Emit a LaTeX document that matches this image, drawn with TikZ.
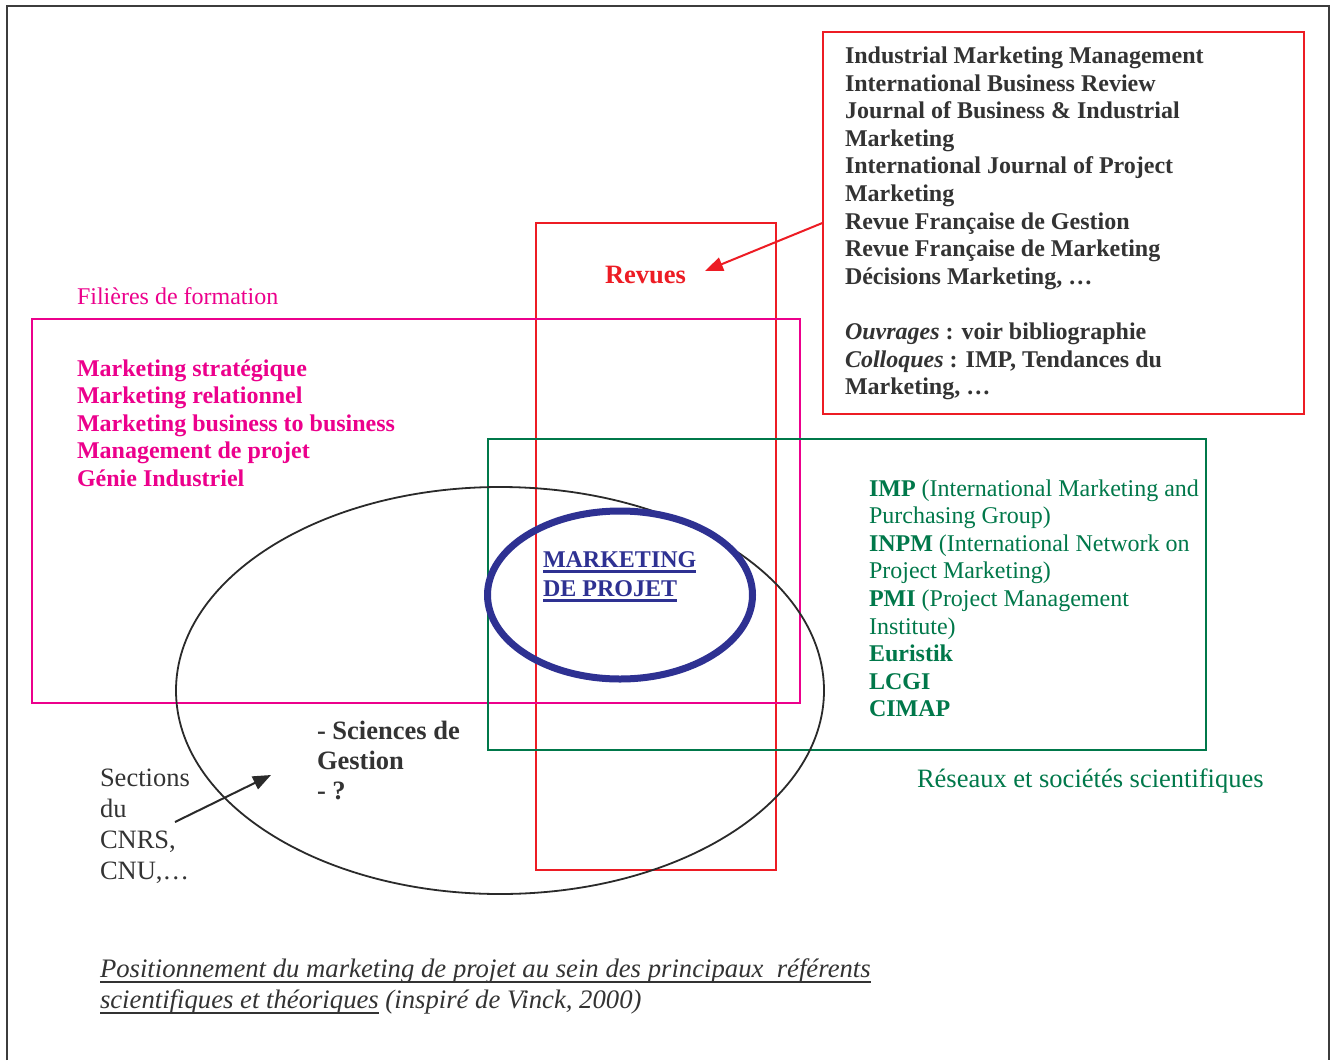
\documentclass[tikz,border=0pt]{standalone}
\usepackage{fontspec}
\setmainfont{Liberation Serif}
\usetikzlibrary{arrows.meta,shapes.geometric}
\definecolor{myred}{HTML}{ED1C24}
\definecolor{mypink}{HTML}{EC008C}
\definecolor{mygreen}{HTML}{00784A}
\definecolor{myblue}{HTML}{2E3192}
\definecolor{mydark}{HTML}{333333}
\definecolor{myline}{HTML}{2A2A2A}
\definecolor{myframe}{HTML}{3C3C3C}
\newcommand\fsA{\fontsize{24}{27.6}\selectfont}
\newcommand\fsB{\fontsize{26.5}{30.4}\selectfont}
\newsavebox\myulbox
\newcommand\myul[3]{\sbox\myulbox{#3}\rlap{\rule[-#1]{\wd\myulbox}{#2}}\usebox\myulbox}
\begin{document}
\begin{tikzpicture}[x=1pt,y=-1pt,
  box/.style={draw,line width=2pt,inner sep=0pt,outer sep=0pt,rectangle},
  txt/.style={anchor=base west,inner sep=0pt,outer sep=0pt},
  arr/.style={line width=2pt,-{Triangle[length=18pt,width=14pt]}}]
\useasboundingbox (0,0) rectangle (1333,1060);
\fill[white] (0,0) rectangle (1333,1060);
\draw[myframe,line width=2.2pt] (7,1060) -- (7,6) -- (1329,6) -- (1329,1060);

% boxes
\node[box,myred,minimum width=481pt,minimum height=382.5pt] (jbox) at (1063.5,222.75) {};
\node[box,myred,minimum width=240pt,minimum height=647pt] (revbox) at (656,546.5) {};
\node[box,mypink,minimum width=768pt,minimum height=384pt] (pinkbox) at (416,511) {};
\node[box,mygreen,minimum width=718.5pt,minimum height=311pt] (greenbox) at (846.75,594.5) {};
\node[ellipse,draw=myline,line width=1.8pt,inner sep=0pt,minimum width=648pt,minimum height=407pt] (bigell) at (500,690.5) {};
\node[ellipse,draw=myblue,line width=7pt,inner sep=0pt,minimum width=265pt,minimum height=168pt] (mpell) at (620,595) {};

% texts
\node[txt,font=\fsA\bfseries,text=mydark] (journals) at (845,63.5) {\begin{tabular}[t]{@{}l@{}}
Industrial Marketing Management\\
International Business Review\\
Journal of Business \& Industrial\\
Marketing\\
International Journal of Project\\
Marketing\\
Revue Française de Gestion\\
Revue Française de Marketing\\
Décisions Marketing, …\\
\\
\textit{Ouvrages} : voir bibliographie\\
\textit{Colloques} : IMP, Tendances du\\
Marketing, …
\end{tabular}};

\node[anchor=base,inner sep=0pt,outer sep=0pt,font=\fsB\bfseries,text=myred] (revues) at (645.5,283) {Revues};

\node[txt,font=\fsA,text=mypink] (filieres) at (77,304) {Filières de formation};

\node[txt,font=\fsA\bfseries,text=mypink] (pinklist) at (77,376) {\begin{tabular}[t]{@{}l@{}}
Marketing stratégique\\
Marketing relationnel\\
Marketing business to business\\
Management de projet\\
Génie Industriel
\end{tabular}};

\node[txt,font=\fontsize{24}{29}\selectfont\bfseries,text=myblue] (mptext) at (543,567.5) {\begin{tabular}[t]{@{}l@{}}
\myul{5pt}{3pt}{MARKETING}\\
\myul{5pt}{3pt}{DE PROJET}
\end{tabular}};

\node[txt,font=\fsA,text=mygreen] (greenlist) at (869,496) {\begin{tabular}[t]{@{}l@{}}
\textbf{IMP} (International Marketing and\\
Purchasing Group)\\
\textbf{INPM} (International Network on\\
Project Marketing)\\
\textbf{PMI} (Project Management\\
Institute)\\
\textbf{Euristik}\\
\textbf{LCGI}\\
\textbf{CIMAP}
\end{tabular}};

\node[txt,font=\fsB,text=mygreen] (reseaux) at (917,787) {Réseaux et sociétés scientifiques};

\node[txt,font=\fontsize{26.5}{30.3}\selectfont\bfseries,text=mydark] (sciences) at (317,739.3) {\begin{tabular}[t]{@{}l@{}}
- Sciences de\\
Gestion\\
- ?
\end{tabular}};

\node[txt,font=\fontsize{26.5}{31}\selectfont,text=mydark] (sections) at (100,786) {\begin{tabular}[t]{@{}l@{}}
Sections\\
du\\
CNRS,\\
CNU,…
\end{tabular}};

\node[txt,font=\fontsize{26.7}{30.5}\selectfont\itshape,text=mydark] (caption) at (100,977.5) {\begin{tabular}[t]{@{}l@{}}
\myul{5.5pt}{2pt}{Positionnement du marketing de projet au sein des principaux\ \ référents}\\
\myul{5.5pt}{2pt}{scientifiques et théoriques} (inspiré de Vinck, 2000)
\end{tabular}};

% connectors
\coordinate (revtip) at (705,271);
\draw[arr,myred] (jbox.west) -- (revtip);
\coordinate (secstart) at (175,822);
\coordinate (sectip) at (271,775);
\draw[arr,myline] (secstart) -- (sectip);
\end{tikzpicture}
\end{document}
